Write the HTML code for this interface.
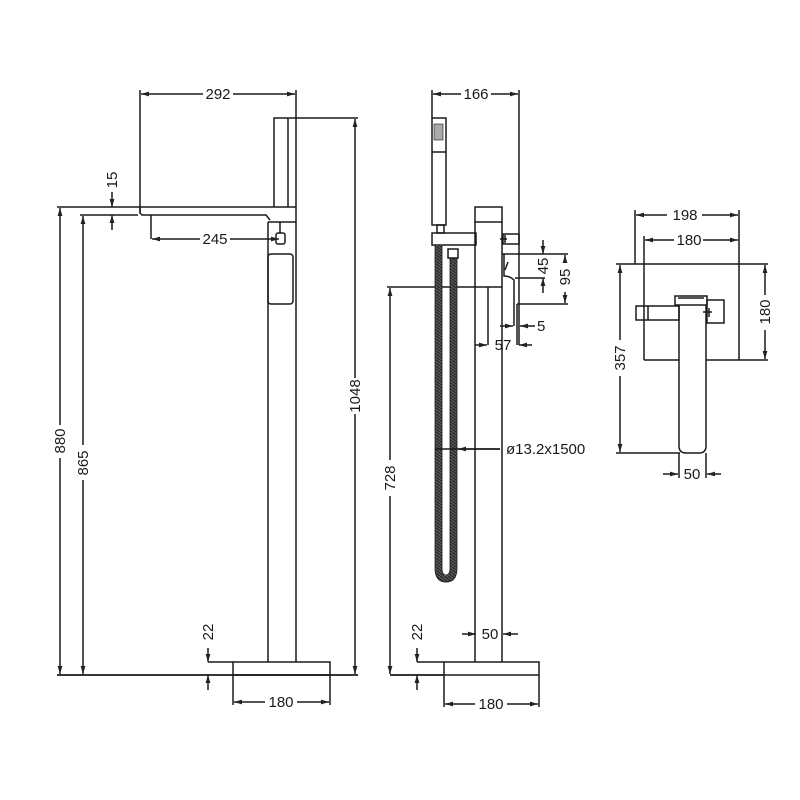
<!DOCTYPE html>
<html><head><meta charset="utf-8"><style>
html,body{margin:0;padding:0;background:#fff;}
svg{display:block}
text{font-family:"Liberation Sans",sans-serif;font-size:15px;fill:#1a1a1a;}
</style></head><body>
<svg width="800" height="800" viewBox="0 0 800 800" xmlns="http://www.w3.org/2000/svg">
<defs>
<marker id="a" viewBox="0 0 10 6" refX="10" refY="3" markerWidth="8" markerHeight="5" orient="auto-start-reverse" markerUnits="userSpaceOnUse"><path d="M0,0 L10,3 L0,6 z" fill="#222"/></marker>
<pattern id="hz" width="4" height="3" patternUnits="userSpaceOnUse"><rect width="4" height="3" fill="#555"/><path d="M0,0 L4,3" stroke="#222" stroke-width="1"/></pattern>
</defs>
<g fill="none" stroke="#1a1a1a" stroke-width="1.5">
<!-- LEFT VIEW -->
<line x1="140" y1="90" x2="140" y2="213"/>
<line x1="296" y1="90" x2="296" y2="118"/>
<line x1="141" y1="94" x2="203" y2="94" marker-start="url(#a)"/>
<line x1="233" y1="94" x2="295" y2="94" marker-end="url(#a)"/>
<polyline points="274,207 274,118 296,118 296,207"/>
<line x1="288" y1="118" x2="288" y2="207"/>
<line x1="57" y1="207" x2="296" y2="207"/>
<line x1="80" y1="215" x2="138" y2="215"/>
<polyline points="140,207 140,213 142,215 266,215 270,220"/>
<line x1="296" y1="207" x2="296" y2="662"/>
<line x1="268" y1="222" x2="268" y2="662"/>
<line x1="268" y1="222" x2="296" y2="222"/>
<rect x="276" y="233" width="9" height="11" rx="2"/>
<line x1="280" y1="222" x2="280" y2="233"/>
<rect x="268" y="254" width="25" height="50" rx="3"/>
<line x1="151" y1="215" x2="151" y2="239"/>
<line x1="152" y1="239" x2="200" y2="239" marker-start="url(#a)"/>
<line x1="230" y1="239" x2="279" y2="239" marker-end="url(#a)"/>
<line x1="112" y1="192" x2="112" y2="207" marker-end="url(#a)"/>
<line x1="112" y1="230" x2="112" y2="215" marker-end="url(#a)"/>
<line x1="60" y1="208" x2="60" y2="425" marker-start="url(#a)"/>
<line x1="60" y1="458" x2="60" y2="674" marker-end="url(#a)"/>
<line x1="83" y1="216" x2="83" y2="445" marker-start="url(#a)"/>
<line x1="83" y1="480" x2="83" y2="674" marker-end="url(#a)"/>
<line x1="296" y1="118" x2="358" y2="118"/>
<line x1="355" y1="119" x2="355" y2="378" marker-start="url(#a)"/>
<line x1="355" y1="414" x2="355" y2="674" marker-end="url(#a)"/>
<line x1="57" y1="675" x2="358" y2="675" stroke-width="1.8"/>
<rect x="233" y="662" width="97" height="13"/>
<line x1="208" y1="662" x2="233" y2="662"/>
<line x1="208" y1="648" x2="208" y2="662" marker-end="url(#a)"/>
<line x1="208" y1="690" x2="208" y2="675" marker-end="url(#a)"/>
<line x1="233" y1="675" x2="233" y2="705"/>
<line x1="330" y1="675" x2="330" y2="705"/>
<line x1="234" y1="702" x2="265" y2="702" marker-start="url(#a)"/>
<line x1="297" y1="702" x2="329" y2="702" marker-end="url(#a)"/>

<!-- MIDDLE VIEW -->
<line x1="432" y1="90" x2="432" y2="118"/>
<line x1="519" y1="90" x2="519" y2="345"/>
<line x1="433" y1="94" x2="461" y2="94" marker-start="url(#a)"/>
<line x1="491" y1="94" x2="518" y2="94" marker-end="url(#a)"/>
<rect x="432" y="118" width="14" height="107"/>
<line x1="432" y1="152" x2="446" y2="152"/>
<rect x="434" y="124" width="9" height="16" fill="#aaa" stroke-width="0.6"/>
<rect x="437" y="225" width="7" height="8"/>
<rect x="432" y="233" width="44" height="12"/>
<rect x="475" y="207" width="27" height="15"/>
<line x1="475" y1="222" x2="475" y2="662"/>
<line x1="502" y1="222" x2="502" y2="662"/>
<rect x="503" y="234" width="16" height="10"/>
<line x1="500" y1="239" x2="507" y2="239"/><line x1="505" y1="235" x2="505" y2="243"/>
<line x1="502" y1="254" x2="568" y2="254"/>
<path d="M504,254 L504,276 Q510,276 514,280 L514,326"/>
<line x1="508" y1="262" x2="505" y2="270"/>
<line x1="515" y1="278" x2="545" y2="278"/>
<line x1="517" y1="304" x2="568" y2="304"/>
<line x1="517" y1="304" x2="517" y2="345"/>
<line x1="488" y1="287" x2="488" y2="345"/>
<line x1="543" y1="240" x2="543" y2="254" marker-end="url(#a)"/>
<line x1="543" y1="293" x2="543" y2="278" marker-end="url(#a)"/>
<line x1="565" y1="255" x2="565" y2="262" marker-start="url(#a)"/>
<line x1="565" y1="292" x2="565" y2="303" marker-end="url(#a)"/>
<line x1="500" y1="326" x2="513" y2="326" marker-end="url(#a)"/>
<line x1="535" y1="326" x2="520" y2="326" marker-end="url(#a)"/>
<line x1="475" y1="345" x2="487" y2="345" marker-end="url(#a)"/>
<line x1="532" y1="345" x2="519" y2="345" marker-end="url(#a)"/>
<line x1="387" y1="287" x2="502" y2="287"/>
<line x1="390" y1="288" x2="390" y2="460" marker-start="url(#a)"/>
<line x1="390" y1="496" x2="390" y2="674" marker-end="url(#a)"/>
<path d="M438.5,245 L438.5,568 Q438.5,579 446,579 Q453.5,579 453.5,568 L453.5,258" stroke="url(#hz)" stroke-width="7"/>
<path d="M435,245 L435,568 Q435,582 446,582 Q457,582 457,568 L457,258" stroke-width="0.8"/>
<path d="M442,245 L442,568 Q442,575 446,575 Q450,575 450,568 L450,258" stroke-width="0.8"/>
<rect x="448" y="249" width="10" height="9"/>
<line x1="435" y1="449" x2="500" y2="449"/>
<line x1="500" y1="449" x2="458" y2="449" marker-end="url(#a)"/>
<line x1="390" y1="675" x2="444" y2="675" stroke-width="1.8"/>
<rect x="444" y="662" width="95" height="13"/>
<line x1="417" y1="662" x2="444" y2="662"/>
<line x1="417" y1="648" x2="417" y2="662" marker-end="url(#a)"/>
<line x1="417" y1="690" x2="417" y2="675" marker-end="url(#a)"/>
<line x1="444" y1="675" x2="444" y2="707"/>
<line x1="539" y1="675" x2="539" y2="707"/>
<line x1="445" y1="704" x2="475" y2="704" marker-start="url(#a)"/>
<line x1="507" y1="704" x2="538" y2="704" marker-end="url(#a)"/>
<line x1="462" y1="634" x2="476" y2="634" marker-end="url(#a)"/>
<line x1="518" y1="634" x2="503" y2="634" marker-end="url(#a)"/>

<!-- RIGHT VIEW -->
<line x1="635" y1="210" x2="635" y2="264"/>
<line x1="739" y1="210" x2="739" y2="360"/>
<line x1="636" y1="215" x2="667" y2="215" marker-start="url(#a)"/>
<line x1="702" y1="215" x2="738" y2="215" marker-end="url(#a)"/>
<line x1="644" y1="236" x2="644" y2="360"/>
<line x1="645" y1="240" x2="674" y2="240" marker-start="url(#a)"/>
<line x1="703" y1="240" x2="738" y2="240" marker-end="url(#a)"/>
<line x1="616" y1="264" x2="768" y2="264"/>
<line x1="644" y1="360" x2="679" y2="360"/>
<line x1="706" y1="360" x2="768" y2="360"/>
<line x1="765" y1="265" x2="765" y2="295" marker-start="url(#a)"/>
<line x1="765" y1="330" x2="765" y2="359" marker-end="url(#a)"/>
<line x1="620" y1="265" x2="620" y2="340" marker-start="url(#a)"/>
<line x1="620" y1="376" x2="620" y2="452" marker-end="url(#a)"/>
<line x1="616" y1="453" x2="680" y2="453"/>
<path d="M679,305 L679,446 Q679,453 686,453 L699,453 Q706,453 706,446 L706,305"/>
<rect x="675" y="296" width="32" height="9"/>
<line x1="678" y1="298" x2="704" y2="298"/>
<rect x="636" y="306" width="43" height="14"/>
<line x1="648" y1="306" x2="648" y2="320"/>
<rect x="707" y="300" width="17" height="23"/>
<line x1="703" y1="312" x2="712" y2="312"/><line x1="709" y1="308" x2="709" y2="317"/>
<line x1="679" y1="453" x2="679" y2="478"/>
<line x1="706" y1="453" x2="706" y2="478"/>
<line x1="663" y1="474" x2="678" y2="474" marker-end="url(#a)"/>
<line x1="721" y1="474" x2="707" y2="474" marker-end="url(#a)"/>
</g>
<g>
<text x="218" y="99" text-anchor="middle">292</text>
<text x="215" y="244" text-anchor="middle">245</text>
<text transform="translate(117,180) rotate(-90)" text-anchor="middle">15</text>
<text transform="translate(65,441) rotate(-90)" text-anchor="middle">880</text>
<text transform="translate(88,463) rotate(-90)" text-anchor="middle">865</text>
<text transform="translate(360,396) rotate(-90)" text-anchor="middle">1048</text>
<text transform="translate(213,632) rotate(-90)" text-anchor="middle">22</text>
<text x="281" y="707" text-anchor="middle">180</text>
<text x="476" y="99" text-anchor="middle">166</text>
<text transform="translate(548,266) rotate(-90)" text-anchor="middle">45</text>
<text transform="translate(570,277) rotate(-90)" text-anchor="middle">95</text>
<text x="537" y="331">5</text>
<text x="503" y="350" text-anchor="middle">57</text>
<text transform="translate(395,478) rotate(-90)" text-anchor="middle">728</text>
<text x="506" y="454">ø13.2x1500</text>
<text transform="translate(422,632) rotate(-90)" text-anchor="middle">22</text>
<text x="490" y="639" text-anchor="middle">50</text>
<text x="491" y="709" text-anchor="middle">180</text>
<text x="685" y="220" text-anchor="middle">198</text>
<text x="689" y="245" text-anchor="middle">180</text>
<text transform="translate(770,312) rotate(-90)" text-anchor="middle">180</text>
<text transform="translate(625,358) rotate(-90)" text-anchor="middle">357</text>
<text x="692" y="479" text-anchor="middle">50</text>
</g>
</svg>
</body></html>
